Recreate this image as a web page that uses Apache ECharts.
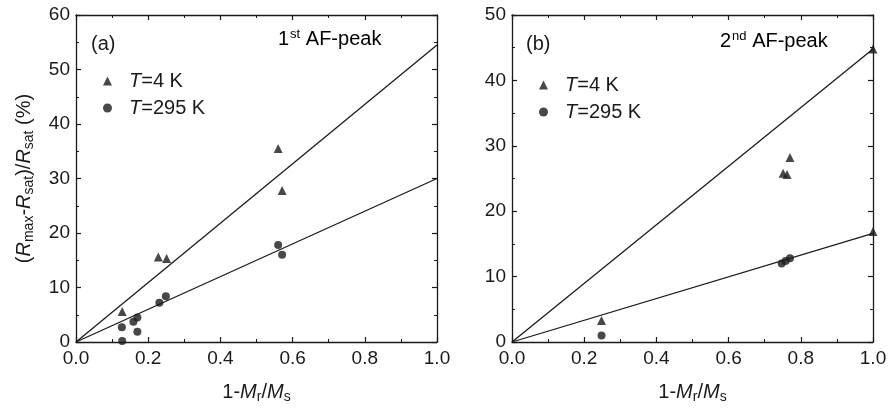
<!DOCTYPE html>
<html>
<head>
<meta charset="utf-8">
<script src="https://cdn.jsdelivr.net/npm/echarts@6/dist/echarts.min.js"></script>
<style>html,body{margin:0;padding:0;background:#fff}#c{width:890px;height:410px}</style>
</head>
<body>
<div id="c"></div>
<script>
// Panel (a): 1st AF-peak
var aT4 = [[0.128, 5.6], [0.228, 15.6], [0.251, 15.3], [0.560, 35.5], [0.571, 27.8]];
var aT295 = [[0.128, 0.2], [0.127, 2.7], [0.159, 3.7], [0.170, 4.5], [0.170, 1.9], [0.231, 7.2], [0.249, 8.4], [0.560, 17.8], [0.571, 16.0]];
var aFitT4 = [[0, 0], [1.0, 54.5]];
var aFitT295 = [[0, 0], [1.0, 30.0]];
// Panel (b): 2nd AF-peak
var bT4 = [[0.248, 3.3], [0.751, 25.8], [0.762, 25.6], [0.770, 28.2], [1.0, 16.9], [1.0, 44.8]];
var bT295 = [[0.248, 1.0], [0.747, 12.0], [0.758, 12.4], [0.770, 12.8]];
var bFitT4 = [[0, 0], [1.0, 44.8]];
var bFitT295 = [[0, 0], [1.0, 16.6]];
// Axes
var xMin = 0, xMax = 1.0, xInterval = 0.2;
var aYMax = 60, bYMax = 50, yInterval = 10;
var legendNames = ['T=4 K', 'T=295 K'];

var FONT = 'Liberation Sans, Arial, sans-serif';
var INK = '#1a1a1a';
var FS = 20, TFS = 19, SUB = 14;

var chart = echarts.init(document.getElementById('c'), null, {renderer: 'canvas'});

var nameRich = {
  n: {fontSize: FS, fontFamily: FONT, color: INK},
  i: {fontSize: FS, fontFamily: FONT, color: INK, fontStyle: 'italic'},
  s: {fontSize: SUB, fontFamily: FONT, color: INK, verticalAlign: 'bottom', padding: [10, 0, 0, 0]}
};

function xAxisPair(gi) {
  var base = {
    gridIndex: gi, type: 'value', min: xMin, max: xMax, interval: xInterval,
    axisLine: {show: true, onZero: false, lineStyle: {color: INK, width: 1.3}},
    axisTick: {show: true, inside: true, length: 5, lineStyle: {color: INK, width: 1.2}},
    minorTick: {show: true, splitNumber: 2, length: 3, lineStyle: {color: INK, width: 1}},
    splitLine: {show: false}
  };
  var bottom = Object.assign({}, base, {
    position: 'bottom',
    axisLabel: {color: INK, fontSize: TFS, fontFamily: FONT, margin: 7,
      formatter: function (v) { return v.toFixed(1); }},
    name: '{n|1-}{i|M}{s|r}{n|/}{i|M}{s|s}',
    nameLocation: 'middle', nameGap: 38,
    nameTextStyle: {rich: nameRich}
  });
  var top = Object.assign({}, base, {position: 'top', axisLabel: {show: false}});
  return [bottom, top];
}

function yAxisPair(gi, ymax, withName) {
  var base = {
    gridIndex: gi, type: 'value', min: 0, max: ymax, interval: yInterval,
    axisLine: {show: true, onZero: false, lineStyle: {color: INK, width: 1.3}},
    axisTick: {show: true, inside: true, length: 5, lineStyle: {color: INK, width: 1.2}},
    minorTick: {show: true, splitNumber: 2, length: 3, lineStyle: {color: INK, width: 1}},
    splitLine: {show: false}
  };
  var left = Object.assign({}, base, {
    position: 'left',
    axisLabel: {color: INK, fontSize: TFS, fontFamily: FONT, margin: 6}
  });
  if (withName) {
    Object.assign(left, {
      name: '{n|(}{i|R}{s|max}{n|-}{i|R}{s|sat}{n|)/}{i|R}{s|sat}{n| (%)}',
      nameLocation: 'middle', nameGap: 40, nameRotate: 90,
      nameTextStyle: {rich: nameRich}
    });
  }
  var right = Object.assign({}, base, {position: 'right', axisLabel: {show: false}});
  return [left, right];
}

var xa = xAxisPair(0), xb = xAxisPair(1);
var ya = yAxisPair(0, aYMax, true), yb = yAxisPair(1, bYMax, false);

function scatter(name, data, xi, yi, sym, size) {
  return {name: name, type: 'scatter', xAxisIndex: xi, yAxisIndex: yi, data: data,
    symbol: sym, symbolSize: size, itemStyle: {color: INK}, z: 3};
}
function fit(data, xi, yi) {
  return {type: 'line', xAxisIndex: xi, yAxisIndex: yi, data: data, showSymbol: false,
    symbol: 'none', lineStyle: {color: INK, width: 1.3}, z: 2, silent: true};
}

var legendRich = {
  i: {fontSize: FS, fontFamily: FONT, color: INK, fontStyle: 'italic'},
  n: {fontSize: FS, fontFamily: FONT, color: INK}
};
function legendAt(left, top) {
  return {
    orient: 'vertical', left: left, top: top, itemGap: 7, itemWidth: 9, itemHeight: 9,
    data: [{name: legendNames[0], icon: 'triangle'}, {name: legendNames[1], icon: 'circle'}],
    selectedMode: false,
    formatter: function (n) { return '{i|' + n.charAt(0) + '}{n|' + n.slice(1) + '}'; },
    textStyle: {rich: legendRich, padding: [0, 0, 0, 12]}
  };
}

var annRich = {
  n: {fontSize: FS, fontFamily: FONT, color: INK},
  p: {fontSize: 13, fontFamily: FONT, color: INK, verticalAlign: 'top', padding: [0, 0, 9, 1]}
};

var option = {
  backgroundColor: '#fff',
  animation: false,
  grid: [
    {left: 76, top: 15, width: 361, height: 327},
    {left: 512, top: 15, width: 361, height: 327}
  ],
  xAxis: [xa[0], xa[1], xb[0], xb[1]],
  yAxis: [ya[0], ya[1], yb[0], yb[1]],
  legend: [legendAt(98, 66), legendAt(534, 70)],
  series: [
    fit(aFitT4, 0, 0), fit(aFitT295, 0, 0),
    scatter(legendNames[0], aT4, 0, 0, 'triangle', 9),
    scatter(legendNames[1], aT295, 0, 0, 'circle', 8),
    fit(bFitT4, 2, 2), fit(bFitT295, 2, 2),
    scatter(legendNames[0], bT4, 2, 2, 'triangle', 9),
    scatter(legendNames[1], bT295, 2, 2, 'circle', 8)
  ],
  graphic: [
    {type: 'text', left: 91, top: 34, style: {text: '(a)', fontSize: FS, fontFamily: FONT, fill: INK}},
    {type: 'text', left: 278, top: 28, style: {text: '{n|1}{p|st}{n| AF-peak}', rich: annRich}},
    {type: 'text', left: 526, top: 34, style: {text: '(b)', fontSize: FS, fontFamily: FONT, fill: INK}},
    {type: 'text', left: 720, top: 30, style: {text: '{n|2}{p|nd}{n| AF-peak}', rich: annRich}}
  ]
};
chart.setOption(option);
</script>
</body>
</html>
